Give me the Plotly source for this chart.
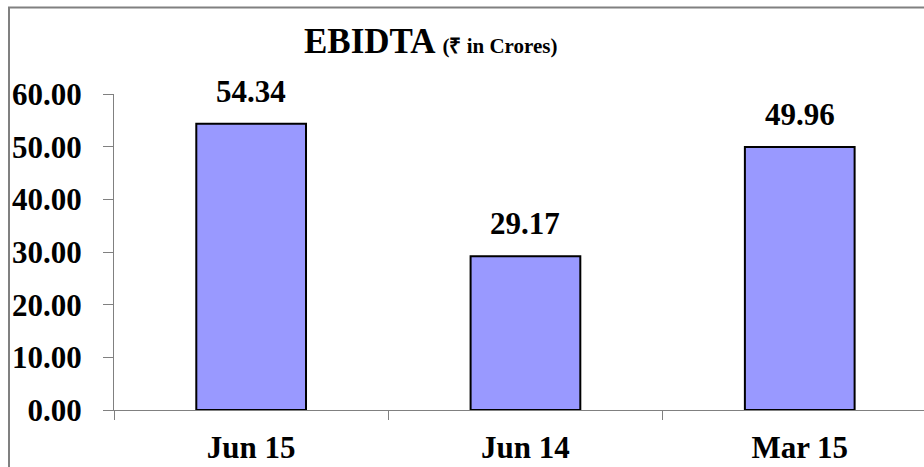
import plotly.graph_objects as go

categories = ["Jun 15", "Jun 14", "Mar 15"]
ebidta = [54.34, 29.17, 49.96]
y_ticks = [0, 10, 20, 30, 40, 50, 60]
title_main = "EBIDTA"
title_sub = "(₹ in Crores)"

FONT = "Liberation Serif"
W, H = 924, 467
L, T, B = 114, 94, 57
PW, PH = W - L, H - T - B

fig = go.Figure()
fig.add_trace(go.Bar(
    x=categories, y=ebidta, width=0.4,
    marker=dict(color="#9999FF", line=dict(color="#000000", width=2)),
    hoverinfo="skip",
))

for c, v in zip(categories, ebidta):
    fig.add_annotation(x=c, y=v, text=f"{v:.2f}", showarrow=False,
                       yanchor="bottom", yshift=13,
                       font=dict(family=FONT, size=31, color="black", weight="bold"))

fig.add_annotation(xref="paper", yref="paper", x=(430 - L) / PW, y=(410 - 63) / PH,
                   xanchor="center", yanchor="bottom", showarrow=False,
                   text=f"{title_main} <span style='font-size:21px'>{title_sub}</span>",
                   font=dict(family=FONT, size=35, color="black", weight="bold"))

# outer border (only top and left visible in the frame)
fig.add_shape(type="rect", xref="paper", yref="paper",
              x0=(9 - L) / PW, x1=1.2, y0=-0.5, y1=(410 - 7.5) / PH,
              line=dict(color="#808080", width=2), layer="above")

fig.update_layout(
    width=W, height=H,
    margin=dict(l=L, r=0, t=T, b=B, autoexpand=False),
    paper_bgcolor="white", plot_bgcolor="white",
    showlegend=False,
    xaxis=dict(range=[-0.5, -0.5 + PW / 274.3], showline=True, linecolor="#808080", linewidth=1,
               ticks="outside", tickson="boundaries", ticklen=9, tickcolor="#808080",
               tickfont=dict(family=FONT, size=31, color="black", weight="bold"),
               ticklabelstandoff=10, showgrid=False, zeroline=False, fixedrange=True,
               automargin=False),
    yaxis=dict(range=[0, 60], tickvals=y_ticks, tickformat=".2f", showline=True,
               linecolor="#808080", linewidth=1, ticks="outside", ticklen=10,
               tickcolor="#808080",
               tickfont=dict(family=FONT, size=31, color="black", weight="bold"),
               ticklabelstandoff=15, showgrid=False, zeroline=False, fixedrange=True,
               automargin=False),
)

fig.write_html(
    "out.html",
    config={"displayModeBar": False},
    post_script=("document.documentElement.style.margin='0';"
                 "document.body.style.margin='0';"
                 "document.documentElement.style.overflow='hidden';"
                 "document.body.style.overflow='hidden';"),
)
